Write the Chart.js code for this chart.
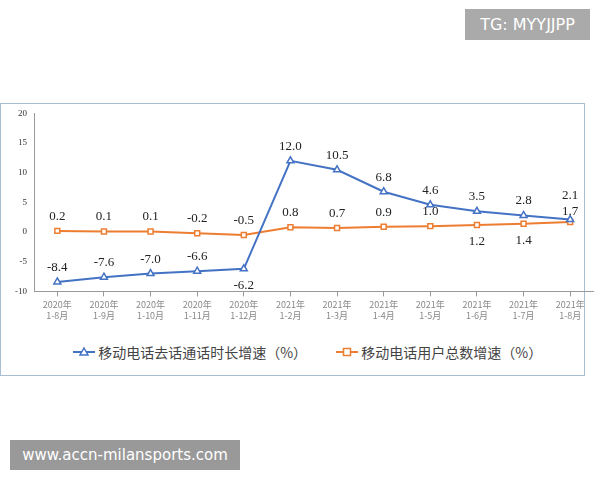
<!DOCTYPE html>
<html><head><meta charset="utf-8">
<script src="https://cdn.jsdelivr.net/npm/chart.js@4/dist/chart.umd.min.js"></script>
<style>
body{margin:0;width:600px;height:480px;background:#fff;position:relative;font-family:"Liberation Serif",serif;overflow:hidden}
#frame{position:absolute;left:0;top:103px;width:585px;height:273px;border:1px solid #a8bfd3;box-sizing:border-box}
#wrap{position:absolute;left:0;top:0;width:598px;height:220px}
#tg{position:absolute;left:465px;top:9px;width:125px;height:31px;background:#aaa;color:#fff;font:16px "DejaVu Sans",sans-serif;line-height:31px;text-align:center}
#wm{position:absolute;left:10px;top:440px;width:230px;height:30px;background:#999;color:#fff;font:15px "DejaVu Sans",sans-serif;line-height:30px;text-align:center}
#legend{position:absolute;left:72px;top:236px;font:14px "Noto Sans CJK SC",sans-serif;color:#444;white-space:nowrap}
.li{display:inline-block;margin-right:26px;vertical-align:middle}
</style></head><body>
<div id="tg">TG: MYYJJPP</div>
<div id="frame">
<div id="wrap"><canvas id="c"></canvas></div>
<div id="legend">
<span class="li"><svg width="22" height="12"><line x1="0" y1="6" x2="22" y2="6" stroke="#4472c4" stroke-width="2"/><polygon points="11,2 15,9 7,9" fill="#fff" stroke="#4472c4" stroke-width="1.5"/></svg> 移动电话去话通话时长增速（%）</span>
<span class="li"><svg width="22" height="12"><line x1="0" y1="6" x2="22" y2="6" stroke="#ed7d31" stroke-width="2"/><rect x="7.5" y="2.5" width="7" height="7" fill="#fff" stroke="#ed7d31" stroke-width="1.5"/></svg> 移动电话用户总数增速（%）</span>
</div>
</div>
<div id="wm">www.accn-milansports.com</div>
<script>
const categories=[["2020年","1-8月"],["2020年","1-9月"],["2020年","1-10月"],["2020年","1-11月"],["2020年","1-12月"],["2021年","1-2月"],["2021年","1-3月"],["2021年","1-4月"],["2021年","1-5月"],["2021年","1-6月"],["2021年","1-7月"],["2021年","1-8月"]];
const callGrowth=[-8.4,-7.6,-7.0,-6.6,-6.2,12.0,10.5,6.8,4.6,3.5,2.8,2.1];
const userGrowth=[0.2,0.1,0.1,-0.2,-0.5,0.8,0.7,0.9,1.0,1.2,1.4,1.7];
const callBelow=[4];
const userBelow=[9,10];
const labelPlugin={id:'lbl',afterDatasetsDraw(ch){
 const ctx=ch.ctx;ctx.save();ctx.font='13px "Liberation Serif",serif';ctx.fillStyle='#222';ctx.textAlign='center';
 ch.data.datasets.forEach((ds,di)=>{const meta=ch.getDatasetMeta(di);const below=di==0?callBelow:userBelow;
  meta.data.forEach((p,i)=>{const b=below.includes(i);ctx.textBaseline=b?'top':'bottom';
   let off=8; if(di==0&&i==ds.data.length-1)off=18; if(di==1&&i==ds.data.length-1)off=4;
   ctx.fillText(ds.data[i].toFixed(1),p.x,b?p.y+10:p.y-off);});});
 ctx.restore();}};
new Chart(document.getElementById('c'),{type:'line',
 data:{labels:categories,datasets:[
  {data:callGrowth,borderColor:'#4472c4',borderWidth:2,pointStyle:'triangle',pointRadius:4,pointBackgroundColor:'#fff',pointBorderColor:'#4472c4',pointBorderWidth:1.5,tension:0},
  {data:userGrowth,borderColor:'#ed7d31',borderWidth:2,pointStyle:'rect',pointRadius:3.5,pointBackgroundColor:'#fff',pointBorderColor:'#ed7d31',pointBorderWidth:1.5,tension:0}]},
 options:{responsive:true,maintainAspectRatio:false,animation:false,
  layout:{padding:{top:8,right:2,left:0,bottom:0}},
  plugins:{legend:{display:false},tooltip:{enabled:false}},
  scales:{
   y:{min:-10,max:20,ticks:{stepSize:5,font:{family:'"Liberation Serif",serif',size:9},color:'#333',padding:4},
      grid:{display:false,drawTicks:true,tickLength:3},border:{color:'#999'},afterFit(s){s.width=33;}},
   x:{offset:true,ticks:{font:{family:'"Noto Sans CJK SC",sans-serif',size:9},color:'#888',maxRotation:0,autoSkip:false},
      grid:{display:true,drawOnChartArea:false,tickLength:5,color:'#999'},border:{color:'#999'}}}},
 plugins:[labelPlugin]});
</script></body></html>
